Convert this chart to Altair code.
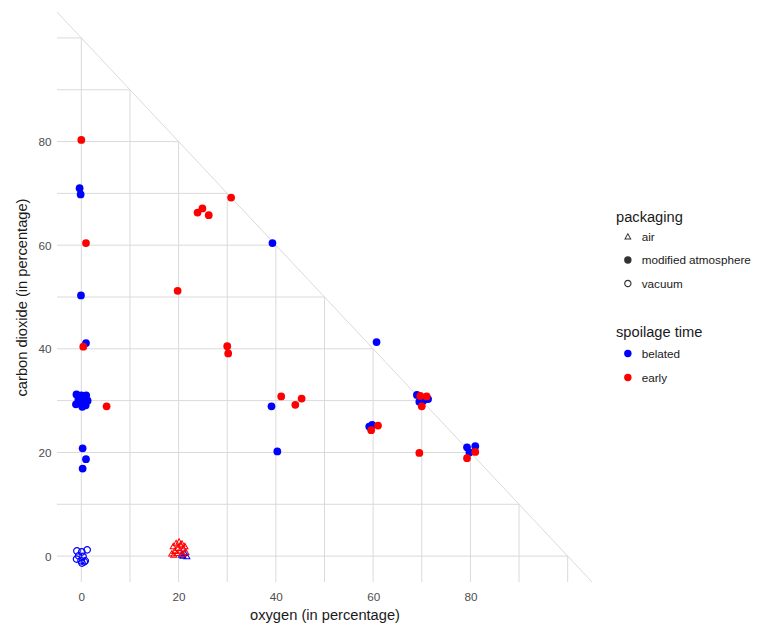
import altair as alt
import pandas as pd

# ---- grid / axes ----
grid_levels = [0, 10, 20, 30, 40, 50, 60, 70, 80, 90, 100]
axis_ticks = [0, 20, 40, 60, 80]
panel_min, panel_max, total = -5, 105, 100

# ---- modified atmosphere, belated ----
ma_bel_o2 = [-0.35, -0.14, -0.07, 0.96, 0.27, 0.96, 0.27,
             -1.0, 0.0, 1.0, -0.6, 0.4, 1.3, -1.1, 0.0, 0.9, 0.2,
             39.3, 60.7, 39.1, 40.3, 59.2, 59.8,
             69.0, 69.5, 71.3, 70.3, 79.3, 81.0, 79.8]
ma_bel_co2 = [71.0, 69.8, 50.3, 41.1, 20.8, 18.7, 16.9,
              31.2, 31.0, 31.0, 30.2, 30.3, 30.0, 29.3, 29.5, 29.1, 28.8,
              60.4, 41.3, 28.9, 20.2, 25.0, 25.3,
              31.1, 29.8, 30.3, 30.0, 21.0, 21.2, 20.0]

# ---- modified atmosphere, early ----
ma_early_o2 = [0.0, 0.96, 0.4, 5.2, 30.8, 23.9, 24.9, 26.2, 19.8, 30.0, 30.2,
               41.1, 45.3, 44.0, 59.6, 61.0, 69.7, 71.0, 70.0, 69.5, 81.0, 79.3]
ma_early_co2 = [80.3, 60.4, 40.4, 28.9, 69.2, 66.3, 67.1, 65.8, 51.2, 40.5, 39.1,
                30.8, 30.4, 29.2, 24.3, 25.2, 30.9, 30.8, 28.9, 19.9, 20.1, 18.9]

# ---- vacuum, belated ----
vac_bel_o2 = [-0.9, 0.1, 1.2, -0.55, 0.35, -0.97, -0.06, 0.6, 0.14, 0.8]
vac_bel_co2 = [1.0, 0.8, 1.2, 0.06, -0.06, -0.58, -0.9, -1.1, -1.35, -0.9]

# ---- air, early ----
air_early_o2 = [18.6, 19.2, 19.8, 20.4, 21.0, 21.5, 18.9, 19.5, 20.1, 20.7,
                21.3, 19.0, 19.7, 20.3, 20.9]
air_early_co2 = [0.5, 1.0, 1.6, 2.2, 1.5, 0.8, 1.9, 2.5, 2.8, 2.4,
                 1.9, 0.3, 0.6, 1.1, 0.4]

# ---- air, belated ----
air_bel_o2 = [20.6, 21.2, 21.7, 20.9]
air_bel_co2 = [0.3, 0.6, 0.0, 0.1]

packaging_order = ["air", "modified atmosphere", "vacuum"]
spoilage_order = ["belated", "early"]
spoilage_colors = ["#0000ff", "#ff0000"]

TRI = "M0,-1L1,0.8L-1,0.8Z M0,-0.475L-0.567,0.545L0.567,0.545Z"
RING = ("M1,0A1,1,0,1,1,-1,0A1,1,0,1,1,1,0Z "
        "M0.7,0A0.7,0.7,0,1,0,-0.7,0A0.7,0.7,0,1,0,0.7,0Z")
shape_range = [TRI, "circle", RING]


def group(o2, co2, pack, spoil):
    return pd.DataFrame({"oxygen": o2, "co2": co2,
                         "packaging": pack, "spoilage": spoil})


points_df = pd.concat([
    group(ma_bel_o2, ma_bel_co2, "modified atmosphere", "belated"),
    group(vac_bel_o2, vac_bel_co2, "vacuum", "belated"),
    group(air_bel_o2, air_bel_co2, "air", "belated"),
    group(ma_early_o2, ma_early_co2, "modified atmosphere", "early"),
    group(air_early_o2, air_early_co2, "air", "early"),
], ignore_index=True)

h_df = pd.DataFrame({"y": grid_levels,
                     "x0": [panel_min] * len(grid_levels),
                     "x1": [total - k for k in grid_levels]})
v_df = pd.DataFrame({"x": grid_levels,
                     "y0": [panel_min] * len(grid_levels),
                     "y1": [total - k for k in grid_levels]})
d_df = pd.DataFrame({"x": [panel_min], "y": [panel_max],
                     "x2": [panel_max], "y2": [panel_min]})

FONT = "Liberation Sans"
xscale = alt.Scale(domain=[panel_min, panel_max], nice=False, zero=False)
yscale = alt.Scale(domain=[panel_min, panel_max], nice=False, zero=False)

xaxis = alt.Axis(values=axis_ticks, grid=False, domain=False, ticks=False,
                 labelColor="#4d4d4d", labelFontSize=11.7, labelFont=FONT,
                 labelPadding=9, title="oxygen (in percentage)",
                 titleFont=FONT, titleFontSize=14.67, titleFontWeight="normal",
                 titleColor="#1a1a1a", titlePadding=5)
yaxis = alt.Axis(values=axis_ticks, grid=False, domain=False, ticks=False,
                 labelColor="#4d4d4d", labelFontSize=11.7, labelFont=FONT,
                 labelPadding=6, title="carbon dioxide (in percentage)",
                 titleFont=FONT, titleFontSize=14.67, titleFontWeight="normal",
                 titleColor="#1a1a1a", titlePadding=8)

GRID = "#dadada"

hgrid = alt.Chart(h_df).mark_rule(color=GRID, strokeWidth=1).encode(
    x=alt.X("x0:Q", scale=xscale, axis=xaxis),
    x2="x1:Q",
    y=alt.Y("y:Q", scale=yscale, axis=yaxis),
)
vgrid = alt.Chart(v_df).mark_rule(color=GRID, strokeWidth=1).encode(
    x=alt.X("x:Q", scale=xscale),
    y=alt.Y("y0:Q", scale=yscale),
    y2="y1:Q",
)
diag = alt.Chart(d_df).mark_rule(color=GRID, strokeWidth=1).encode(
    x=alt.X("x:Q", scale=xscale),
    y=alt.Y("y:Q", scale=yscale),
    x2="x2:Q",
    y2="y2:Q",
)

pts = alt.Chart(points_df).mark_point(filled=True, size=60, opacity=1,
                                      strokeWidth=0).encode(
    x=alt.X("oxygen:Q", scale=xscale),
    y=alt.Y("co2:Q", scale=yscale),
    shape=alt.Shape("packaging:N",
                    scale=alt.Scale(domain=packaging_order, range=shape_range),
                    legend=alt.Legend(title="packaging", orient="none",
                                      legendX=559, legendY=198,
                                      symbolFillColor="#333333",
                                      symbolStrokeWidth=0, symbolSize=55,
                                      symbolOffset=6, labelOffset=8,
                                      rowPadding=10.5, titlePadding=6)),
    color=alt.Color("spoilage:N",
                    scale=alt.Scale(domain=spoilage_order, range=spoilage_colors),
                    legend=alt.Legend(title="spoilage time", orient="none",
                                      legendX=559, legendY=313,
                                      symbolType="circle", symbolStrokeWidth=0,
                                      symbolSize=55, symbolOffset=6,
                                      labelOffset=8, rowPadding=11,
                                      titlePadding=8)),
)

chart = alt.layer(hgrid, vgrid, diag, pts).properties(
    width=535, height=570,
    autosize=alt.AutoSizeParams(type="none"),
    padding={"left": 49, "top": 4, "right": 170, "bottom": 47},
    background="white",
).configure_view(stroke=None).configure_legend(
    titleFont=FONT, titleFontSize=14.67, titleFontWeight="normal",
    titleColor="#1a1a1a", labelFont=FONT, labelFontSize=11.7,
    labelColor="#1a1a1a",
)

chart.save("out.html", embed_options={"renderer": "svg", "actions": False})
